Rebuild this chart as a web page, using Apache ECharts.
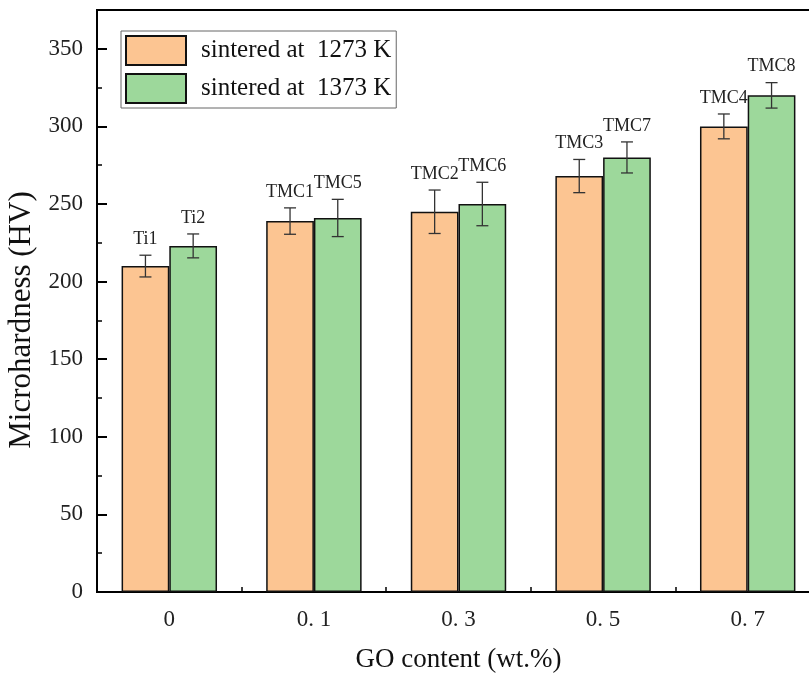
<!DOCTYPE html>
<html>
<head>
<meta charset="utf-8">
<script src="https://cdn.jsdelivr.net/npm/echarts@6/dist/echarts.min.js"></script>
<style>html,body{margin:0;padding:0;background:#fff;}#c{width:809px;height:673px;}</style>
</head>
<body>
<div id="c"></div>
<script>
const categories = ['0', '0. 1', '0. 3', '0. 5', '0. 7'];
const hv1273 = [210, 239, 245, 268, 300];
const hv1373 = [223, 241, 250, 280, 320];
const err1273 = [7, 8.5, 14, 10.7, 8];
const err1373 = [7.7, 12, 14, 10, 8.2];
const names1273 = ['Ti1', 'TMC1', 'TMC2', 'TMC3', 'TMC4'];
const names1373 = ['Ti2', 'TMC5', 'TMC6', 'TMC7', 'TMC8'];
const seriesNames = ['sintered at  1273 K', 'sintered at  1373 K'];

const FONT = "'Liberation Serif', 'Times New Roman', serif";
const CAT_GAP = 0.34;

function errRender(labels, side) {
  return function (params, api) {
    const ci = api.value(0), v = api.value(1), e = api.value(2);
    const band = api.size([1, 0])[0];
    const bw = band * (1 - CAT_GAP) / 2;
    const cx = api.coord([ci, v])[0] + (side === 0 ? -bw / 2 : bw / 2);
    const yTop = api.coord([ci, v + e])[1];
    const yBot = api.coord([ci, v - e])[1];
    const cap = 6;
    const ls = { stroke: '#333', lineWidth: 1.3 };
    return {
      type: 'group',
      children: [
        { type: 'line', shape: { x1: cx, y1: yTop, x2: cx, y2: yBot }, style: ls },
        { type: 'line', shape: { x1: cx - cap, y1: yTop, x2: cx + cap, y2: yTop }, style: ls },
        { type: 'line', shape: { x1: cx - cap, y1: yBot, x2: cx + cap, y2: yBot }, style: ls },
        { type: 'text', x: cx, y: yTop - 7, style: { text: labels[params.dataIndex], fill: '#222', font: '18px ' + FONT, textAlign: 'center', textVerticalAlign: 'bottom' } }
      ]
    };
  };
}

const chart = echarts.init(document.getElementById('c'), null, { renderer: 'canvas' });
chart.setOption({
  backgroundColor: '#fff',
  animation: false,
  textStyle: { fontFamily: FONT },
  grid: { left: 97, top: 10, right: -11, bottom: 81, outerBoundsMode: 'none', containLabel: false,
          show: true, borderColor: '#000', borderWidth: 2, backgroundColor: 'transparent' },
  legend: {
    orient: 'vertical', left: 121, top: 31,
    itemWidth: 60, itemHeight: 29, itemGap: 7,
    padding: [4, 5, 4, 4],
    borderColor: '#666', borderWidth: 1,
    icon: 'rect',
    textStyle: { fontFamily: FONT, fontSize: 25, color: '#111', padding: [0, 0, 0, 10] },
    data: seriesNames
  },
  xAxis: {
    type: 'category', data: categories,
    axisLine: { lineStyle: { color: '#000', width: 2 } },
    axisTick: { show: true, inside: true, length: 5, lineStyle: { color: '#000', width: 1.5 } },
    axisLabel: { fontFamily: FONT, fontSize: 23, color: '#222', margin: 16 },
    name: 'GO content (wt.%)', nameLocation: 'middle', nameGap: 54,
    nameTextStyle: { fontFamily: FONT, fontSize: 27, color: '#111' }
  },
  yAxis: [{
    type: 'value', min: 0, max: 375, interval: 50,
    axisLine: { show: true, lineStyle: { color: '#000', width: 2 } },
    axisTick: { show: true, inside: true, length: 10, lineStyle: { color: '#000', width: 2 } },
    axisLabel: { fontFamily: FONT, fontSize: 23, color: '#222', margin: 14, showMaxLabel: false },
    splitLine: { show: false },
    name: 'Microhardness (HV)', nameLocation: 'middle', nameGap: 56,
    nameTextStyle: { fontFamily: FONT, fontSize: 31, color: '#111', padding: [0, 38, 0, 0] }
  }, {
    type: 'value', min: 0, max: 375, interval: 25, position: 'left',
    axisLine: { show: false },
    axisTick: { show: true, inside: true, length: 5, lineStyle: { color: '#000', width: 1.5 } },
    axisLabel: { show: false },
    splitLine: { show: false }
  }],
  series: [
    { name: seriesNames[0], type: 'bar', data: hv1273, barGap: '0%', barCategoryGap: (CAT_GAP * 100) + '%',
      itemStyle: { color: '#FCC592', borderColor: '#111', borderWidth: 1.5 } },
    { name: seriesNames[1], type: 'bar', data: hv1373, barGap: '0%', barCategoryGap: (CAT_GAP * 100) + '%',
      itemStyle: { color: '#9DD89B', borderColor: '#111', borderWidth: 1.5 } },
    { type: 'custom', z: 5, renderItem: errRender(names1273, 0),
      data: hv1273.map((v, i) => [i, v, err1273[i]]) },
    { type: 'custom', z: 5, renderItem: errRender(names1373, 1),
      data: hv1373.map((v, i) => [i, v, err1373[i]]) }
  ]
});
</script>
</body>
</html>
